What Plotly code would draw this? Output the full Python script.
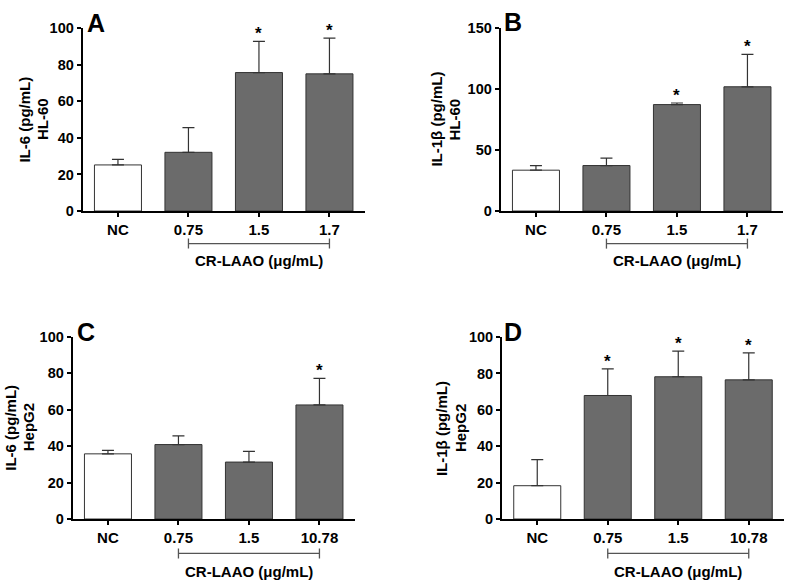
import plotly.graph_objects as go

# ---------------- data ----------------
cats_hl60 = ["NC", "0.75", "1.5", "1.7"]
cats_hepg2 = ["NC", "0.75", "1.5", "10.78"]

il6_hl60_mean = [25.2, 32.1, 75.7, 75.0]
il6_hl60_err = [3.0, 13.5, 17.1, 19.5]
il6_hl60_sig = [False, False, True, True]

il1b_hl60_mean = [33.5, 37.3, 87.3, 101.9]
il1b_hl60_err = [3.8, 6.1, 1.3, 26.6]
il1b_hl60_sig = [False, False, True, True]

il6_hepg2_mean = [35.7, 40.8, 31.2, 62.5]
il6_hepg2_err = [1.9, 4.8, 5.9, 14.6]
il6_hepg2_sig = [False, False, False, True]

il1b_hepg2_mean = [18.3, 67.9, 78.2, 76.5]
il1b_hepg2_err = [14.3, 14.6, 14.1, 14.8]
il1b_hepg2_sig = [False, True, True, True]

y_ticks_100 = [0, 20, 40, 60, 80, 100]
y_ticks_150 = [0, 50, 100, 150]

bracket_label = "CR-LAAO (μg/mL)"
# --------------------------------------

W, H = 787, 588
FONT = "Liberation Sans, Arial, sans-serif"
DARK = "#6b6b6b"

fig = go.Figure()


def px_x(p):
    return p / W


def px_y(p):
    return 1 - p / H


panels = [
    dict(name="A", xa="x", ya="y", cats=cats_hl60, mean=il6_hl60_mean, err=il6_hl60_err, sig=il6_hl60_sig,
         xdom=(82.7, 364.7), ydom=(20.7, 208.7), ymax=100, ticks=y_ticks_100,
         t1="IL-6 (pg/mL)", t2="HL-60", tx=(25, 42.5), letter=(96, 15), br=(32.6, 49.3)),
    dict(name="B", xa="x2", ya="y2", cats=cats_hl60, mean=il1b_hl60_mean, err=il1b_hl60_err, sig=il1b_hl60_sig,
         xdom=(500.7, 782.7), ydom=(20.7, 208.7), ymax=150, ticks=y_ticks_150,
         t1="IL-1β (pg/mL)", t2="HL-60", tx=(437, 455), letter=(513, 14), br=(32.6, 49.3)),
    dict(name="C", xa="x3", ya="y3", cats=cats_hepg2, mean=il6_hepg2_mean, err=il6_hepg2_err, sig=il6_hepg2_sig,
         xdom=(72.7, 354.7), ydom=(337.7, 525.3), ymax=100, ticks=y_ticks_100,
         t1="IL-6 (pg/mL)", t2="HepG2", tx=(11, 28.5), letter=(85.5, 333), br=(34.4, 52)),
    dict(name="D", xa="x4", ya="y4", cats=cats_hepg2, mean=il1b_hepg2_mean, err=il1b_hepg2_err, sig=il1b_hepg2_sig,
         xdom=(502, 784), ydom=(338.3, 525.3), ymax=100, ticks=y_ticks_100,
         t1="IL-1β (pg/mL)", t2="HepG2", tx=(441, 460), letter=(513, 333), br=(34.4, 52)),
]

annotations = []
shapes = []
layout_axes = {}

for i, p in enumerate(panels):
    n = len(p["cats"])
    colors = ["white"] + [DARK] * (n - 1)
    fig.add_trace(go.Bar(
        x=p["cats"], y=p["mean"], xaxis=p["xa"], yaxis=p["ya"],
        marker=dict(color=colors, line=dict(color="#333333", width=1)),
        error_y=dict(type="data", array=p["err"], arrayminus=[0] * n, symmetric=False,
                     color="#333333", thickness=1.2, width=6),
        showlegend=False, hoverinfo="skip",
    ))
    suffix = "" if i == 0 else str(i + 1)
    xd = [px_x(p["xdom"][0]), px_x(p["xdom"][1])]
    yd = [px_y(p["ydom"][1]), px_y(p["ydom"][0])]
    layout_axes["xaxis" + suffix] = dict(
        domain=xd, anchor=p["ya"], type="category", range=[-0.5, n - 0.5],
        showline=True, linecolor="black", linewidth=2, ticks="outside", ticklen=4, tickwidth=1.5,
        tickcolor="black", showgrid=False, zeroline=False,
        tickfont=dict(family=FONT, size=15, color="black", weight="bold"),
    )
    layout_axes["yaxis" + suffix] = dict(
        domain=yd, anchor=p["xa"], range=[0, p["ymax"]], tickvals=p["ticks"],
        showline=True, linecolor="black", linewidth=2, ticks="outside", ticklen=4, tickwidth=1.5,
        tickcolor="black", showgrid=False, zeroline=False,
        tickfont=dict(family=FONT, size=14.5, color="black", weight="bold"),
    )
    # significance asterisks
    for j, (m, e, s) in enumerate(zip(p["mean"], p["err"], p["sig"])):
        if s:
            annotations.append(dict(x=j, y=m + e, xref=p["xa"], yref=p["ya"], text="*", showarrow=False,
                                    yanchor="bottom", yshift=-4,
                                    font=dict(family=FONT, size=17, color="black", weight="bold")))
    # panel letter
    annotations.append(dict(x=px_x(p["letter"][0]), y=px_y(p["letter"][1]), xref="paper", yref="paper",
                            text=p["name"], showarrow=False, xanchor="center", yanchor="middle",
                            font=dict(family=FONT, size=25, color="black", weight="bold")))
    # two-line y-axis titles
    ymid = px_y((p["ydom"][0] + p["ydom"][1]) / 2)
    for txt, xx in ((p["t1"], p["tx"][0]), (p["t2"], p["tx"][1])):
        annotations.append(dict(x=px_x(xx), y=ymid, xref="paper", yref="paper", text=txt, textangle=-90,
                                showarrow=False, xanchor="center", yanchor="middle", borderpad=0,
                                font=dict(family=FONT, size=15, color="black", weight="bold")))
    # bracket under the treated groups
    ybot = px_y(p["ydom"][1])
    off = p["br"][0]
    c0, c1 = 1, n - 1
    shapes.append(dict(type="line", xref=p["xa"], yref="paper", x0=c0, x1=c1, ysizemode="pixel",
                       yanchor=ybot, y0=-off, y1=-off, line=dict(color="#555555", width=1.3)))
    for cc in (c0, c1):
        shapes.append(dict(type="line", xref=p["xa"], yref="paper", x0=cc, x1=cc, ysizemode="pixel",
                           yanchor=ybot, y0=-off - 5, y1=-off + 5, line=dict(color="#555555", width=1.3)))
    annotations.append(dict(x=(c0 + c1) / 2, y=ybot, xref=p["xa"], yref="paper", yshift=-p["br"][1],
                            text=bracket_label, showarrow=False, xanchor="center", yanchor="middle",
                            font=dict(family=FONT, size=15, color="black", weight="bold")))

fig.update_layout(
    width=W, height=H, margin=dict(l=0, r=0, t=0, b=0),
    paper_bgcolor="white", plot_bgcolor="white",
    bargap=0.333, annotations=annotations, shapes=shapes, showlegend=False,
    **layout_axes,
)

fig.write_html(
    "out.html",
    config={"displayModeBar": False},
    post_script="document.documentElement.style.margin='0';document.body.style.margin='0';"
                "document.documentElement.style.overflow='hidden';document.body.style.overflow='hidden';",
)
